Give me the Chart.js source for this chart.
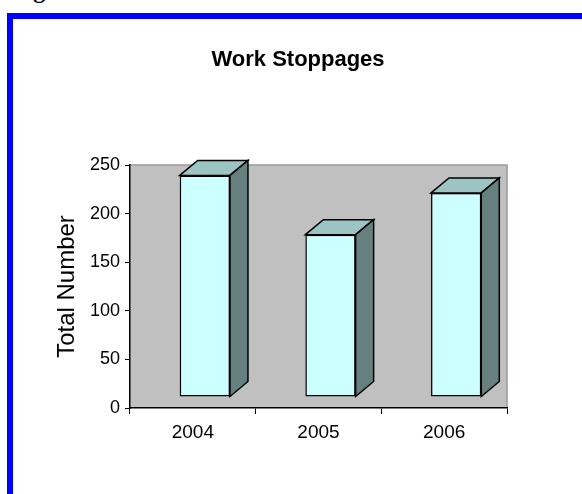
<!DOCTYPE html>
<html lang="en">
<head>
<meta charset="UTF-8" />
<title>Work Stoppages</title>
<script src="https://cdn.jsdelivr.net/npm/chart.js"></script>
<style>
  html, body { margin: 0; padding: 0; background: #fff; }
  body { width: 582px; height: 494px; position: relative; overflow: hidden; }
  .caption {
    position: absolute; left: 12px; top: -22px;
    font: bold 24px/24px "Liberation Serif", serif; white-space: nowrap;
  }
  .frame {
    position: absolute; left: 7px; top: 13px; width: 620px; height: 520px;
    border-left: 6px solid #0000ff; border-top: 6px solid #0000ff;
  }
  #chart { position: absolute; left: 0; top: 0; }
</style>
</head>
<body>
  <div class="caption">Figure 6:</div>
  <div class="frame"></div>
  <canvas id="chart" width="582" height="494"></canvas>

  <script>
    const years = ['2004', '2005', '2006'];
    const stoppages = [228, 167, 210];
    const yTicks = [0, 50, 100, 150, 200, 250];

    const sans = '"Liberation Sans", Arial, sans-serif';

    // grey back wall behind the bars
    const plotBg = {
      id: 'plotBg',
      beforeDraw(chart) {
        const { ctx, chartArea: a } = chart;
        ctx.save();
        ctx.fillStyle = '#c0c0c0';
        ctx.fillRect(a.left, a.top, a.right - a.left, a.bottom - a.top);
        ctx.strokeStyle = '#9a9a9a';
        ctx.lineWidth = 1.5;
        ctx.beginPath();
        ctx.moveTo(a.left, a.top);
        ctx.lineTo(a.right, a.top);
        ctx.lineTo(a.right, a.bottom);
        ctx.stroke();
        ctx.restore();
      }
    };

    // fake depth: shift the front faces, then add top and side faces
    const dx = 18, dy = -15;
    const box3d = {
      id: 'box3d',
      beforeDatasetsDraw(chart) {
        chart.ctx.save();
        chart.ctx.translate(12, -11);
      },
      afterDatasetsDraw(chart) {
        const ctx = chart.ctx;
        ctx.lineWidth = 1.5;
        ctx.strokeStyle = '#000';
        chart.getDatasetMeta(0).data.forEach(bar => {
          const { x, y, base, width } = bar.getProps(['x', 'y', 'base', 'width'], true);
          const l = x - width / 2, r = x + width / 2;

          ctx.fillStyle = '#9cc4c2';
          ctx.beginPath();
          ctx.moveTo(l, y);
          ctx.lineTo(l + dx, y + dy);
          ctx.lineTo(r + dx, y + dy);
          ctx.lineTo(r, y);
          ctx.closePath();
          ctx.fill();
          ctx.stroke();

          ctx.fillStyle = '#668080';
          ctx.beginPath();
          ctx.moveTo(r, y);
          ctx.lineTo(r + dx, y + dy);
          ctx.lineTo(r + dx, base + dy);
          ctx.lineTo(r, base);
          ctx.closePath();
          ctx.fill();
          ctx.stroke();
        });
        ctx.restore();
      }
    };

    new Chart(document.getElementById('chart'), {
      type: 'bar',
      data: {
        labels: years,
        datasets: [{
          data: stoppages,
          backgroundColor: '#ccffff',
          borderColor: '#000',
          borderWidth: 1.5,
          borderSkipped: false,
          barPercentage: 0.4,
          categoryPercentage: 1,
          clip: false
        }]
      },
      options: {
        responsive: false,
        animation: false,
        // left padding pushes the title centre to where it sits in the original
        layout: { padding: { left: 89, right: 75, top: 0, bottom: 0 } },
        plugins: {
          legend: { display: false },
          tooltip: { enabled: false },
          title: {
            display: true,
            text: 'Work Stoppages',
            color: '#000',
            font: { family: sans, size: 22, weight: 'bold', lineHeight: 1.2 },
            padding: { top: 47, bottom: 91.6 }
          }
        },
        scales: {
          x: {
            grid: { drawOnChartArea: false, tickLength: 6, tickColor: '#000', tickWidth: 1 },
            border: { color: '#000', width: 1.5 },
            ticks: { color: '#000', padding: 7, font: { family: sans, size: 19 } },
            afterFit(scale) { scale.height = 86; }
          },
          y: {
            min: yTicks[0],
            max: yTicks[yTicks.length - 1],
            grid: { drawOnChartArea: false, tickLength: 5, tickColor: '#000', tickWidth: 1 },
            border: { color: '#000', width: 1.5 },
            ticks: { stepSize: yTicks[1] - yTicks[0], color: '#000', padding: 5, font: { family: sans, size: 18 } },
            title: {
              display: true,
              text: 'Total Number',
              color: '#000',
              font: { family: sans, size: 24, lineHeight: 1.2 },
              padding: { top: -36, bottom: 0 }
            },
            afterFit(scale) { scale.width = 41; }
          }
        }
      },
      plugins: [plotBg, box3d]
    });
  </script>
</body>
</html>
